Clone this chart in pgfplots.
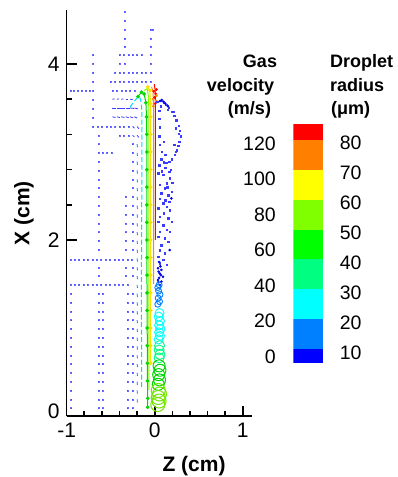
\documentclass[border=0pt]{standalone}
\usepackage{fontspec}
\setmainfont{Liberation Sans}
\usepackage{pgfplots}
\usepackage{pgfplotstable}
\pgfplotsset{compat=1.18}
\definecolor{vblue}{RGB}{60,60,255}
\definecolor{dblue}{RGB}{0,0,230}
\definecolor{cbBlue}{RGB}{0,0,255}
\definecolor{cbDodger}{RGB}{0,128,255}
\definecolor{cbCyan}{RGB}{0,255,255}
\definecolor{cbSpring}{RGB}{0,255,128}
\definecolor{cbGreen}{RGB}{0,255,0}
\definecolor{cbChart}{RGB}{128,255,0}
\definecolor{cbYellow}{RGB}{255,255,0}
\definecolor{cbOrange}{RGB}{255,128,0}
\definecolor{cbRed}{RGB}{255,0,0}
\definecolor{lnGreen}{RGB}{0,215,0}
\definecolor{lnYellow}{RGB}{250,225,0}
\definecolor{lnOrange}{RGB}{255,140,0}

% far-field gas velocity vectors (tiny)
\pgfplotstableread[row sep=\\]{
z x\\
-0.95 0.09\\ -0.95 0.19\\ -0.95 0.29\\ -0.95 0.39\\ -0.95 0.49\\ -0.95 0.59\\ -0.95 0.69\\ -0.95 0.79\\ -0.95 0.89\\ -0.95 0.99\\ -0.95 1.09\\ -0.95 1.19\\ -0.95 1.29\\ -0.95 1.39\\
-0.96 1.78\\ -0.91 1.78\\ -0.86 1.78\\ -0.81 1.78\\ -0.76 1.78\\ -0.71 1.78\\ -0.66 1.78\\ -0.61 1.78\\ -0.56 1.78\\ -0.51 1.78\\ -0.46 1.78\\ -0.41 1.78\\ -0.36 1.78\\ -0.31 1.78\\ -0.26 1.78\\
-0.96 1.49\\ -0.91 1.49\\ -0.86 1.49\\ -0.81 1.49\\ -0.76 1.49\\ -0.71 1.49\\ -0.66 1.49\\ -0.61 1.49\\ -0.56 1.49\\ -0.51 1.49\\ -0.46 1.49\\ -0.41 1.49\\ -0.36 1.49\\ -0.31 1.49\\
-0.96 3.70\\ -0.92 3.70\\ -0.87 3.70\\ -0.83 3.70\\ -0.78 3.70\\ -0.74 3.70\\
-0.70 3.29\\ -0.70 3.39\\ -0.70 3.49\\ -0.70 3.59\\ -0.70 3.70\\ -0.70 3.80\\ -0.70 3.90\\ -0.70 4.00\\ -0.70 4.10\\
-0.64 0.09\\ -0.64 0.19\\ -0.64 0.29\\ -0.64 0.39\\ -0.64 0.49\\ -0.64 0.59\\ -0.64 0.69\\ -0.64 0.79\\ -0.64 0.89\\ -0.64 0.99\\ -0.64 1.09\\ -0.64 1.19\\ -0.64 1.29\\ -0.64 1.39\\ -0.64 1.59\\ -0.64 1.69\\ -0.64 1.89\\ -0.64 1.99\\ -0.64 2.09\\ -0.64 2.19\\ -0.64 2.29\\ -0.64 2.39\\ -0.64 2.49\\ -0.64 2.59\\ -0.64 2.69\\ -0.64 2.79\\ -0.64 2.89\\ -0.64 3.09\\ -0.64 3.19\\
-0.59 0.09\\ -0.59 0.19\\ -0.59 0.29\\ -0.59 0.39\\ -0.59 0.49\\ -0.59 0.59\\ -0.59 0.69\\ -0.59 0.79\\ -0.59 0.89\\ -0.59 0.99\\ -0.59 1.09\\ -0.59 1.19\\ -0.59 1.29\\ -0.59 1.39\\
-0.31 0.09\\ -0.31 0.19\\ -0.31 0.29\\ -0.31 0.39\\ -0.31 0.49\\ -0.31 0.59\\ -0.31 0.69\\ -0.31 0.79\\ -0.31 0.89\\ -0.31 0.99\\ -0.31 1.09\\ -0.31 1.19\\ -0.31 1.29\\ -0.31 1.39\\ -0.33 1.59\\ -0.33 1.69\\ -0.33 1.89\\ -0.33 1.99\\ -0.33 2.09\\ -0.33 2.19\\ -0.33 2.29\\ -0.33 2.39\\ -0.33 2.49\\
-0.25 0.09\\ -0.25 0.19\\ -0.25 0.29\\ -0.25 0.39\\ -0.25 0.49\\ -0.25 0.59\\ -0.25 0.69\\ -0.25 0.79\\ -0.25 0.89\\ -0.25 0.99\\ -0.25 1.09\\ -0.25 1.19\\ -0.25 1.29\\ -0.25 1.39\\ -0.25 1.59\\ -0.25 1.69\\ -0.25 1.89\\ -0.25 1.99\\ -0.25 2.09\\ -0.25 2.19\\ -0.25 2.29\\ -0.25 2.39\\ -0.25 2.49\\ -0.25 2.59\\ -0.25 2.69\\ -0.25 2.79\\ -0.25 2.89\\ -0.25 2.99\\ -0.25 3.09\\
-0.64 2.99\\ -0.59 2.99\\ -0.54 2.99\\ -0.49 2.99\\
-0.34 4.20\\ -0.34 4.29\\ -0.34 4.39\\ -0.34 4.49\\ -0.34 4.59\\
-0.40 4.10\\ -0.35 4.10\\ -0.30 4.10\\ -0.25 4.10\\ -0.20 4.10\\ -0.15 4.10\\
-0.40 4.00\\ -0.34 4.00\\
-0.45 3.90\\ -0.40 3.90\\ -0.35 3.90\\ -0.30 3.90\\ -0.25 3.90\\ -0.20 3.90\\ -0.15 3.90\\ -0.10 3.90\\
-0.50 3.80\\ -0.45 3.80\\ -0.40 3.80\\ -0.35 3.80\\ -0.30 3.80\\ -0.25 3.80\\ -0.20 3.80\\ -0.15 3.80\\ -0.10 3.80\\ -0.05 3.80\\
-0.48 3.70\\ -0.43 3.70\\ -0.38 3.70\\ -0.33 3.70\\ -0.28 3.70\\ -0.23 3.70\\
-0.65 3.29\\ -0.60 3.29\\ -0.55 3.29\\ -0.50 3.29\\ -0.45 3.29\\ -0.40 3.29\\ -0.35 3.29\\ -0.30 3.29\\
-0.40 3.19\\ -0.35 3.19\\ -0.30 3.19\\
-0.045 3.90\\ -0.045 4.00\\ -0.045 4.10\\ -0.045 4.20\\ -0.045 4.29\\ -0.045 4.39\\ -0.02 4.39\\
}\farfield

% near-jet horizontal vectors (entrainment)
\pgfplotstableread[row sep=\\]{
z x u v\\
-0.48 3.60 0.025 0.003\\ -0.43 3.60 0.025 0.003\\ -0.38 3.60 0.025 0.003\\ -0.33 3.60 0.03 0.0\\ -0.28 3.60 0.03 -0.005\\
-0.48 3.50 0.045 0\\ -0.43 3.50 0.045 0\\ -0.38 3.50 0.045 0\\ -0.33 3.50 0.045 0\\ -0.28 3.50 0.045 -0.005\\ -0.23 3.50 0.04 -0.01\\
-0.48 3.40 0.035 -0.008\\ -0.43 3.40 0.035 -0.008\\ -0.38 3.40 0.035 -0.008\\ -0.33 3.40 0.035 -0.01\\ -0.28 3.40 0.035 -0.012\\ -0.23 3.40 0.03 -0.015\\
-0.25 3.19 0.02 -0.02\\ -0.20 3.19 0.02 -0.025\\ -0.25 3.29 0.02 -0.02\\ -0.20 3.29 0.02 -0.025\\
}\entrain

% column of short vectors just outside the jet
\pgfplotstableread[row sep=\\]{
z x\\
-0.20 0.19\\ -0.20 0.29\\ -0.20 0.39\\ -0.20 0.49\\ -0.20 0.59\\ -0.20 0.69\\ -0.20 0.79\\ -0.20 0.89\\ -0.20 0.99\\ -0.20 1.09\\ -0.20 1.19\\ -0.20 1.29\\ -0.20 1.39\\ -0.20 1.49\\ -0.20 1.59\\ -0.20 1.69\\ -0.20 1.79\\ -0.20 1.89\\ -0.20 1.99\\ -0.20 2.09\\ -0.20 2.19\\ -0.20 2.29\\ -0.20 2.39\\ -0.20 2.49\\ -0.20 2.59\\ -0.20 2.69\\ -0.20 2.79\\ -0.20 2.89\\ -0.20 2.99\\ -0.20 3.09\\
}\jetside

% small droplets (blue dots)
\pgfplotstableread[row sep=\\]{
z x\\
0.03 3.57\\ 0.07 3.585\\ 0.10 3.56\\ 0.13 3.535\\ 0.16 3.50\\ 0.19 3.455\\ 0.22 3.41\\ 0.245 3.36\\ 0.27 3.30\\ 0.285 3.24\\ 0.295 3.18\\ 0.28 3.12\\ 0.265 3.07\\ 0.25 3.02\\ 0.225 2.97\\ 0.195 2.92\\ 0.165 2.89\\ 0.13 2.875\\ 0.10 2.885\\ 0.075 2.92\\
0.05 3.47\\ 0.05 3.38\\ 0.06 3.28\\ 0.05 3.18\\ 0.06 3.08\\ 0.08 3.00\\ 0.10 3.12\\ 0.12 2.97\\ 0.07 3.52\\ 0.24 3.27\\ 0.22 3.08\\ 0.27 3.21\\ 0.21 3.46\\ 0.15 3.48\\ 0.24 3.00\\
0.05 2.85\\ 0.12 2.82\\ 0.18 2.80\\ 0.08 2.78\\ 0.20 2.65\\ 0.19 2.55\\ 0.14 2.60\\ 0.06 2.47\\ 0.12 2.45\\
0.038 2.758\\ 0.095 2.739\\ 0.163 2.777\\ 0.17 2.70\\ 0.133 2.644\\ 0.057 2.625\\ 0.114 2.587\\ 0.076 2.53\\ 0.152 2.511\\ 0.163 2.436\\ 0.095 2.417\\ 0.133 2.38\\ 0.038 2.36\\ 0.17 2.34\\ 0.102 2.303\\ 0.057 2.265\\ 0.152 2.246\\ 0.038 2.208\\ 0.19 2.208\\ 0.095 2.17\\ 0.133 2.114\\ 0.057 2.095\\ 0.17 2.095\\ 0.038 2.038\\ 0.114 2.02\\ 0.152 1.98\\ 0.076 1.943\\ 0.057 1.886\\ 0.114 1.848\\ 0.038 1.811\\ 0.095 1.773\\ 0.057 1.735\\ 0.133 1.716\\
}\smalldrop

\pgfplotstableread[row sep=\\]{
z x\\
0.19 2.473\\ 0.17 1.886\\ 0.038 1.679\\ 0.076 1.66\\ 0.057 1.62\\ 0.095 1.583\\ 0.038 1.545\\ 0.076 1.527\\ 0.057 1.489\\ 0.045 1.64\\ 0.065 1.70\\ 0.05 1.57\\ 0.07 1.60\\ 0.05 1.75\\ 0.04 1.52\\
0.06 3.58\\ 0.08 3.59\\ 0.10 3.57\\ 0.12 3.55\\ 0.15 3.52\\
}\darkdrop

\begin{document}
\begin{tikzpicture}
\path[use as bounding box] (0,0) rectangle (398pt,477pt);
\begin{axis}[
  at={(66.7pt,61pt)}, anchor=south west,
  x=88pt, y=88pt,
  xmin=-1, xmax=1.107, ymin=0, ymax=4.61,
  axis x line*=bottom, axis y line*=left,
  axis line style={line width=1.6pt},
  xtick={-1,0,1}, ytick={2,4},
  extra y ticks={0},
  extra y tick style={yticklabel style={yshift=4.5pt}},
  minor x tick num=4, minor y tick num=4,
  tick align=inside,
  major tick length=10pt, minor tick length=5pt,
  tick style={line width=1.6pt, black},
  tick label style={font=\fontsize{21}{25}\selectfont, inner sep=1pt},
  xticklabel style={yshift=-6pt},
  yticklabel style={xshift=-6pt},
  /pgf/number format/assume math mode=true,
  xlabel={Z (cm)}, ylabel={X (cm)},
  every axis x label/.style={at={(axis description cs:0.687,-0.1356)}, anchor=base, font=\bfseries\fontsize{21}{25}\selectfont},
  every axis y label/.style={at={(axis description cs:-0.2017,0.5)}, rotate=90, anchor=base, font=\bfseries\fontsize{21}{25}\selectfont},
  clip=false,
]
% far-field gas vectors
\addplot[only marks, mark=square*, mark size=0.5pt, color=vblue, mark options={draw opacity=0.75, fill opacity=0.75}] table[x=z,y=x] {\farfield};
% entrainment vectors
\addplot[quiver={u=\thisrow{u}, v=\thisrow{v}}, color=vblue, line width=0.8pt] table[x=z,y=x] {\entrain};
% vectors beside the jet
\addplot[quiver={u=0.004, v=-0.035}, color=cbDodger, line width=0.8pt] table[x=z,y=x] {\jetside};
% streamlines
\addplot[color=cbCyan!85!blue, line width=1pt, dash pattern=on 5pt off 2.5pt, smooth, tension=0.4] coordinates {
(-0.28,3.51) (-0.23,3.58) (-0.18,3.63) (-0.155,3.57) (-0.146,3.45) (-0.145,3.2) (-0.147,2.5) (-0.15,1.8) (-0.15,1.0) (-0.148,0.3)};
\addplot[color=lnGreen, line width=1pt, mark=*, mark size=1.3pt] coordinates {
(-0.19,3.63) (-0.15,3.68) (-0.12,3.66) (-0.10,3.56) (-0.093,3.40) (-0.09,3.2) (-0.09,3.0) (-0.09,2.8) (-0.09,2.6) (-0.09,2.4) (-0.09,2.2) (-0.09,2.0) (-0.088,1.8) (-0.088,1.6) (-0.087,1.4) (-0.086,1.2) (-0.085,1.0) (-0.084,0.8) (-0.083,0.6) (-0.082,0.4) (-0.08,0.2) (-0.08,0.1)};
\addplot[color=cbChart, line width=1pt] coordinates {
(-0.12,3.70) (-0.085,3.72) (-0.07,3.62) (-0.065,3.4) (-0.065,2.5) (-0.066,1.5) (-0.066,0.8) (-0.065,0.3)};
\addplot[color=lnYellow, line width=1pt, mark=*, mark size=1.3pt] coordinates {
(-0.08,3.74) (-0.055,3.70) (-0.047,3.55) (-0.045,3.4) (-0.045,3.2) (-0.045,3.0) (-0.045,2.8) (-0.045,2.6) (-0.045,2.4) (-0.045,2.2) (-0.045,2.0) (-0.045,1.8) (-0.045,1.6) (-0.045,1.4) (-0.045,1.2) (-0.045,1.0) (-0.045,0.8) (-0.045,0.6)};
\addplot[color=lnOrange, line width=1pt] coordinates {
(-0.035,3.74) (-0.018,3.68) (-0.013,3.5) (-0.012,3.0) (-0.012,2.5) (-0.012,2.0) (-0.012,1.5)};
\addplot[color=cbRed, line width=1pt] coordinates {
(-0.005,3.77) (0.006,3.7) (0.008,3.4) (0.008,3.0) (0.008,2.5) (0.008,2.0)};
\addplot[only marks, mark=*, mark size=1.2pt, color=cbRed] coordinates {(0.0,3.62) (0.012,3.66) (-0.01,3.69) (0.02,3.71) (0.005,3.55)};
\addplot[only marks, mark=*, mark size=1.2pt, color=lnOrange] coordinates {(-0.02,3.60) (0.015,3.58) (-0.015,3.52) (0.02,3.64)};
% droplets
\addplot[only marks, mark=square*, mark size=0.7pt, color=vblue] table[x=z,y=x] {\smalldrop};
\addplot[only marks, mark=*, mark size=1.1pt, color=dblue] table[x=z,y=x] {\darkdrop};
\addplot[only marks, mark=o, mark size=3pt, color=cbDodger, line width=0.9pt] coordinates {
(0.035,1.27) (0.055,1.30) (0.04,1.34) (0.06,1.38) (0.045,1.42) (0.035,1.46) (0.05,1.49)};
\addplot[only marks, mark=o, mark size=4.5pt, color=cbCyan, line width=0.9pt] coordinates {
(0.045,0.87) (0.06,0.91) (0.05,0.95) (0.065,0.99) (0.05,1.03) (0.06,1.08) (0.045,1.13) (0.055,1.17)};
\addplot[only marks, mark=o, mark size=5pt, color=cbSpring, line width=0.9pt] coordinates {
(0.05,0.66) (0.06,0.70) (0.05,0.75) (0.055,0.80)};
\addplot[only marks, mark=o, mark size=6pt, color=lnGreen, line width=1pt] coordinates {
(0.04,0.36) (0.055,0.41) (0.045,0.47) (0.06,0.52) (0.05,0.57)};
\addplot[only marks, mark=o, mark size=7pt, color=cbChart!90!black, line width=1pt] coordinates {
(0.035,0.13) (0.05,0.17) (0.04,0.21) (0.055,0.25) (0.04,0.29)};
\end{axis}

% colour bar (droplet radius scale)
\begin{axis}[
  at={(293.3pt,114pt)}, anchor=south west,
  x=30pt, y=2.986pt, xmin=0, xmax=1, ymin=5.31, ymax=85.36,
  axis line style={draw=none}, xtick=\empty,
  ytick={10,20,30,40,50,60,70,80}, yticklabel pos=right,
  major tick length=0pt, tick style={draw=none},
  yticklabel style={anchor=west, xshift=13pt, yshift=-3.3pt, font=\fontsize{19.5}{23}\selectfont},
  /pgf/number format/assume math mode=true,
]
\addplot[fill=cbBlue, draw=none] coordinates {(0,5.31) (1,5.31) (1,10) (0,10)};
\addplot[fill=cbDodger, draw=none] coordinates {(0,10) (1,10) (1,20) (0,20)};
\addplot[fill=cbCyan, draw=none] coordinates {(0,20) (1,20) (1,30) (0,30)};
\addplot[fill=cbSpring, draw=none] coordinates {(0,30) (1,30) (1,40) (0,40)};
\addplot[fill=cbGreen, draw=none] coordinates {(0,40) (1,40) (1,50) (0,50)};
\addplot[fill=cbChart, draw=none] coordinates {(0,50) (1,50) (1,60) (0,60)};
\addplot[fill=cbYellow, draw=none] coordinates {(0,60) (1,60) (1,70) (0,70)};
\addplot[fill=cbOrange, draw=none] coordinates {(0,70) (1,70) (1,80) (0,80)};
\addplot[fill=cbRed, draw=none] coordinates {(0,80) (1,80) (1,85.36) (0,85.36)};
\end{axis}

% gas velocity scale labels
\begin{axis}[
  at={(293.3pt,114pt)}, anchor=south west,
  x=30pt, y=1.778pt, xmin=0, xmax=1, ymin=-3.54, ymax=130.85,
  axis line style={draw=none}, xtick=\empty,
  ytick={0,20,40,60,80,100,120}, yticklabel pos=left,
  major tick length=0pt, tick style={draw=none},
  yticklabel style={anchor=east, xshift=-14pt, font=\fontsize{19.5}{23}\selectfont},
  /pgf/number format/assume math mode=true,
]
\addplot[draw=none] coordinates {(0,0) (1,120)};
\end{axis}

\begin{scope}[every node/.style={inner sep=0pt, font=\bfseries\fontsize{18}{22}\selectfont}]
\node[anchor=base] at (260pt,409pt) {Gas};
\node[anchor=base] at (240.5pt,385pt) {velocity};
\node[anchor=base] at (249.5pt,362pt) {(m/s)};
\node[anchor=base west] at (330pt,409pt) {Droplet};
\node[anchor=base west] at (330pt,385pt) {radius};
\node[anchor=base west] at (331pt,362pt) {(μm)};
\end{scope}
\end{tikzpicture}
\end{document}
